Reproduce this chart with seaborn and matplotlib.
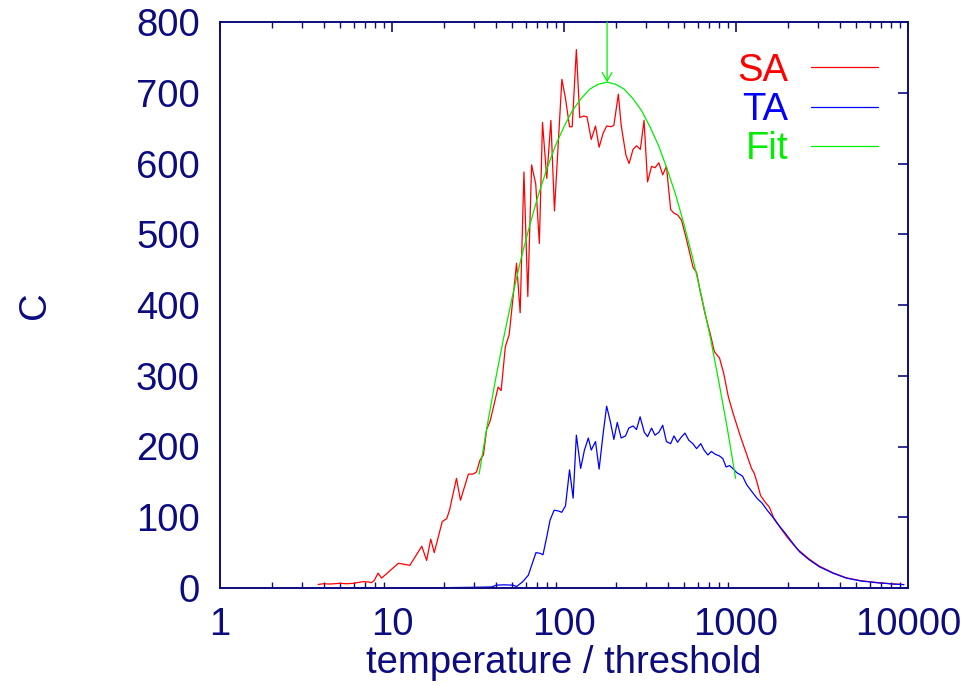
import numpy as np
import pandas as pd
import matplotlib
matplotlib.use("Agg")
import matplotlib.pyplot as plt
import seaborn as sns

# ===============================
# DATA
# ===============================
sa_T = [3.72, 3.99, 4.36, 4.98, 5.45, 5.96, 6.8, 7.3, 7.6, 7.9, 8.3, 8.7,
        10.9, 12.7, 14.9, 15.9, 16.8, 17.6, 19.6, 20.8, 21.6, 23.7, 25.0,
        27.8, 29.6, 31.0, 32.5, 34.0, 35.5, 37.3, 41.4, 43.1, 45.6, 48.0,
        53.0, 55.6, 58.5, 61.6, 64.8, 68.5, 71.9, 75.0, 79.4, 83.9, 88.0,
        97.2, 102, 107.7, 111.6, 118, 123.5, 130, 136, 144, 152.5, 160, 169,
        177, 188, 195, 207, 215, 229, 239, 252, 264, 278, 292, 306, 323, 338,
        356, 375, 394, 417, 435, 459, 482, 510, 535, 563, 590, 617, 660, 707,
        749, 802, 849, 903, 967, 1062, 1164, 1231, 1277, 1323, 1388, 1470,
        1565, 1650, 1800, 1980, 2250, 2660, 3050, 3660, 4370, 5300, 6580,
        8200, 9450]
sa_C = [5, 6, 5.6, 6.6, 6, 6.6, 9, 8.5, 7.5, 11, 21, 14,
        35, 32, 59, 39, 69, 50, 94, 98, 110, 155, 124,
        161, 161, 164, 181, 188, 224, 237, 284, 279, 341, 358,
        459, 389, 588, 412, 598, 571, 487, 658, 579, 661, 533,
        719, 692, 652, 652, 761, 665, 667, 666, 634, 653, 623, 643,
        653, 652, 654, 698, 654, 612, 600, 620, 625, 620, 661, 574, 596, 594,
        601, 584, 596, 535, 530, 527, 520, 497, 476, 453, 446, 421, 388, 360,
        334, 325, 303, 270, 245, 214, 186, 169, 162, 150, 131, 122,
        114, 100, 86, 72, 56, 41, 31, 21.5, 14.5, 10.3, 7.7,
        5.8, 4.9]

ta_T = [4.0, 10, 20, 30, 38, 40.4, 45, 50.6, 53, 57.6, 62, 68.7, 72.6,
        75.5, 79.5, 83, 87.6, 92.4, 97, 102, 107.7, 113, 118, 125, 131.5,
        138.5, 144, 152.5, 160, 169, 177, 186, 195, 204, 215, 228, 238, 252,
        264, 277, 293, 306, 323, 338, 356, 375, 394, 417, 436, 457, 480, 505,
        531, 561, 590, 624, 652, 686, 719, 757, 797, 838, 876, 917, 967, 1010,
        1062, 1092, 1154, 1239, 1323, 1418, 1517, 1626, 1741, 1941, 2144,
        2345, 2660, 3050, 3660, 4370, 5300, 6580, 8200, 9450]
ta_C = [0, 0, 0.5, 1, 1.5, 4, 4.5, 4, 2, 9, 18, 50, 49,
        47, 73, 96, 110, 109, 107, 116, 167, 127, 216, 169, 195,
        212, 195, 207, 168, 219, 257, 235, 210, 234, 212, 215, 226, 229,
        224, 242, 220, 214, 226, 216, 220, 230, 207, 204, 215, 206, 213, 219,
        209, 204, 197, 204, 195, 188, 193, 189, 187, 183, 171, 173, 168, 163,
        160, 158, 146, 136, 127, 120, 110, 101, 91, 77, 63,
        51, 40, 30, 21, 14, 10, 7.5, 5.6, 4.7]

fit_T = [32.1, 35.5, 39.8, 44.7, 50.1, 56.2, 63.1, 70.8, 79.4, 89.1, 100,
         112, 126, 141, 158, 178, 200, 224, 251, 282, 316, 355, 398, 447,
         501, 562, 631, 708, 794, 891, 995]
fit_C = [161, 225, 292, 355, 412, 465, 512, 555, 592, 625, 652,
         675, 692, 705, 712, 715, 712, 705, 692, 675, 652, 625, 592, 555,
         512, 465, 412, 355, 292, 225, 155]

peak_T = 178
peak_C = 715

x_ticks = [1, 10, 100, 1000, 10000]
x_labels = ["1", "10", "100", "1000", "10000"]
y_ticks = [0, 100, 200, 300, 400, 500, 600, 700, 800]

# ===============================
# STYLE
# ===============================
sns.set_style("white")
plt.rcParams['font.family'] = ['Liberation Sans', 'DejaVu Sans']
navy = "#0c0c80"
fs = 27.5

fig = plt.figure(figsize=(9.78, 6.86), dpi=100)
ax = fig.add_axes([220 / 978, 98 / 686, 688 / 978, 566 / 686])

df_sa = pd.DataFrame({"T": sa_T, "C": sa_C})
df_ta = pd.DataFrame({"T": ta_T, "C": ta_C})
df_fit = pd.DataFrame({"T": fit_T, "C": fit_C})

sns.lineplot(data=df_sa, x="T", y="C", ax=ax, color="#ff0000", lw=0.9,
             sort=False, estimator=None, label="SA")
sns.lineplot(data=df_ta, x="T", y="C", ax=ax, color="#0000ff", lw=0.9,
             sort=False, estimator=None, label="TA")
sns.lineplot(data=df_fit, x="T", y="C", ax=ax, color="#00ee00", lw=0.9,
             sort=False, estimator=None, label="Fit")

# arrow marking the peak of the fit
ax.annotate("", xy=(peak_T, peak_C), xytext=(peak_T, 800),
            arrowprops=dict(arrowstyle="->,head_length=0.6,head_width=0.35",
                            color="#00ee00", lw=0.9, shrinkA=0, shrinkB=0))

ax.set_xscale("log")
ax.set_xlim(1, 10000)
ax.set_ylim(0, 800)
ax.set_xticks(x_ticks)
ax.set_xticklabels(x_labels)
ax.set_yticks(y_ticks)

ax.tick_params(axis="both", which="major", direction="in", length=7,
               width=1.2, color=navy, labelcolor=navy, labelsize=fs,
               top=True, right=True)
ax.tick_params(axis="x", which="minor", direction="in", length=4,
               width=1.0, color=navy, top=True, bottom=True)
ax.tick_params(axis="y", which="major", pad=14.5)
ax.tick_params(axis="x", which="major", pad=14)

for s in ax.spines.values():
    s.set_color(navy)
    s.set_linewidth(1.4)

ax.set_xlabel("temperature / threshold", fontsize=fs, color=navy, labelpad=1)
ax.set_ylabel("C", fontsize=fs, color=navy, labelpad=60)

leg = ax.legend(loc="upper right", bbox_to_anchor=(0.956, 0.946),
                frameon=False, markerfirst=False, fontsize=fs,
                labelcolor="linecolor", handlelength=1.75, handletextpad=0.6,
                labelspacing=0.09, borderpad=0.0, borderaxespad=0.0)

fig.savefig("out.png", dpi=100)
